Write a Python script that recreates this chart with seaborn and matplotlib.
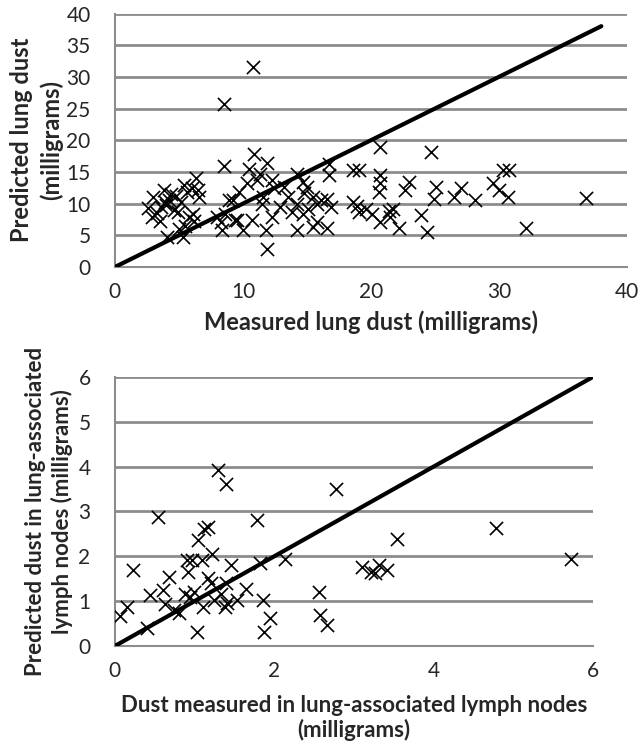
import numpy as np
import pandas as pd
import matplotlib
matplotlib.use('Agg')
import matplotlib.pyplot as plt
import seaborn as sns

# ─── DATA ─────────────────────────────────────────────────────────────────────
# top panel: measured vs predicted lung dust (mg)
lung_measured = [
    2.6, 2.9, 3.0, 3.3, 3.6, 3.8, 3.9, 4.2, 4.4, 4.6, 4.9, 4.1, 5.3, 5.0, 5.4,
    5.6, 5.8, 6.0, 6.1, 6.3, 6.5, 6.2, 5.2, 4.8, 3.5, 5.5, 4.0, 6.6,
    10.8, 8.5, 8.5, 10.9, 11.9, 10.5, 11.3, 11.1, 10.3, 9.7, 8.9, 11.6, 11.5,
    12.3, 12.4, 13.2, 13.5, 12.9, 12.3, 11.8, 11.9, 10.0, 9.5, 10.7, 8.6, 8.3,
    8.4, 8.0, 9.2, 9.4,
    14.2, 14.7, 15.0, 14.8, 15.5, 14.2, 13.8, 14.7, 15.1, 15.8, 16.1, 16.9,
    16.6, 14.2, 15.5, 15.8, 16.6, 16.7, 16.7,
    18.6, 19.1, 18.6, 18.9, 19.1, 19.6, 20.1, 20.7, 20.7, 20.7, 20.6, 20.7,
    21.4, 21.5, 21.7, 22.2, 22.7, 23.0, 23.9, 24.4, 24.7, 25.1, 24.9, 26.5,
    27.0, 28.1, 29.5, 30.0, 30.3, 30.8, 30.7, 32.1, 36.8,
]
lung_predicted = [
    9.3, 7.9, 11.0, 8.5, 9.5, 12.2, 10.2, 10.6, 11.5, 9.0, 8.7, 4.7, 4.7, 6.0, 13.0,
    11.8, 7.9, 12.5, 8.3, 14.1, 12.2, 7.2, 10.2, 11.2, 7.3, 6.5, 9.8, 11.0,
    31.6, 25.7, 15.9, 17.9, 16.4, 15.5, 14.7, 13.7, 13.2, 11.8, 10.5, 11.1, 10.0,
    13.7, 12.4, 12.6, 11.1, 9.5, 7.9, 5.8, 2.9, 5.8, 7.4, 7.4, 8.4, 7.1,
    5.8, 7.9, 10.6, 7.4,
    14.7, 13.4, 12.6, 11.6, 11.1, 10.0, 8.7, 8.4, 9.2, 10.0, 10.5, 9.5,
    10.8, 5.8, 6.3, 7.1, 6.1, 16.3, 14.5,
    15.3, 15.3, 10.3, 9.7, 8.7, 9.2, 8.4, 18.9, 14.5, 13.2, 11.8, 7.1,
    8.9, 7.9, 9.2, 6.1, 12.1, 13.4, 8.2, 5.5, 18.2, 12.6, 10.8, 11.1,
    12.4, 10.5, 13.2, 12.1, 15.3, 15.3, 11.1, 6.1, 10.9,
]
lung_line = [0, 38]

# bottom panel: lymph node dust (mg)
node_measured = [
    0.07, 0.15, 0.23, 0.40, 0.44, 0.54, 0.60, 0.63, 0.68, 0.74, 0.81, 0.88,
    0.90, 0.92, 0.97, 0.94, 0.99, 1.03, 1.04, 1.09, 1.10, 1.12, 1.17, 1.17,
    1.20, 1.22, 1.24, 1.30, 1.33, 1.40, 1.38, 1.41, 1.40, 1.46, 1.53, 1.64,
    1.78, 1.82, 1.86, 1.87, 1.95, 2.13, 2.56, 2.58, 2.66, 2.78, 3.10, 3.21,
    3.26, 3.31, 3.41, 3.54, 4.79, 5.73,
]
node_predicted = [
    0.67, 0.88, 1.69, 0.39, 1.14, 2.87, 1.25, 0.94, 1.54, 0.80, 0.74, 1.17,
    1.92, 1.66, 1.92, 1.10, 1.21, 0.32, 2.36, 1.92, 0.88, 2.61, 2.65, 1.51,
    1.40, 2.06, 1.02, 3.92, 1.17, 3.62, 0.88, 0.95, 1.40, 1.80, 1.02, 1.28,
    2.81, 1.84, 1.02, 0.32, 0.62, 1.93, 1.21, 0.69, 0.47, 3.49, 1.77, 1.66,
    1.62, 1.80, 1.69, 2.38, 2.64, 1.93,
]
node_line = [0, 6]

# ─── STYLE ────────────────────────────────────────────────────────────────────
sns.set_style('white')
plt.rcParams['font.family'] = ['Lato', 'DejaVu Sans']

grid_col = '#8c8c8c'


def style_axes(ax, xmax, xstep, ymax, ystep):
    ax.set_xlim(0, xmax)
    ax.set_ylim(0, ymax)
    ax.set_xticks(np.arange(0, xmax + 0.01, xstep))
    ax.set_yticks(np.arange(0, ymax + 0.01, ystep))
    ax.yaxis.grid(True, color=grid_col, lw=2)
    ax.xaxis.grid(False)
    for side in ['top', 'right']:
        ax.spines[side].set_visible(False)
    for side in ['left', 'bottom']:
        ax.spines[side].set_color(grid_col)
        ax.spines[side].set_linewidth(1.5)
    ax.tick_params(axis='y', labelsize=15, length=6.5, width=2,
                   color=grid_col, direction='out', pad=11)
    ax.tick_params(axis='x', labelsize=15, length=5, width=1.5,
                   color=grid_col, direction='out', pad=6)
    ax.set_axisbelow(True)


fig = plt.figure(figsize=(6.42, 7.5), dpi=100)

# ─── TOP PANEL ────────────────────────────────────────────────────────────────
ax1 = fig.add_axes([0.179, 0.644, 0.7975, 0.338])
sns.scatterplot(x=lung_measured, y=lung_predicted, marker='x', color='black',
                s=90, linewidth=1.2, ax=ax1, zorder=3)
sns.lineplot(x=lung_line, y=lung_line, color='black', lw=3, ax=ax1, zorder=4)
style_axes(ax1, 40, 10, 40, 5)
ax1.set_xlabel('Measured lung dust (milligrams)', fontsize=17,
               fontweight='bold', labelpad=6)
ax1.set_ylabel('Predicted lung dust\n(milligrams)', fontsize=17,
               fontweight='bold', labelpad=2, linespacing=1.35)

# ─── BOTTOM PANEL ─────────────────────────────────────────────────────────────
ax2 = fig.add_axes([0.179, 0.1387, 0.7445, 0.3587])
sns.scatterplot(x=node_measured, y=node_predicted, marker='x', color='black',
                s=90, linewidth=1.2, ax=ax2, zorder=3)
sns.lineplot(x=node_line, y=node_line, color='black', lw=3, ax=ax2, zorder=4)
style_axes(ax2, 6, 2, 6, 1)
ax2.set_xlabel('Dust measured in lung-associated lymph nodes\n(milligrams)',
               fontsize=16, fontweight='bold', labelpad=10, linespacing=1.15)
ax2.set_ylabel('Predicted dust in lung-associated\nlymph nodes (milligrams)',
               fontsize=16, fontweight='bold', labelpad=4, linespacing=1.25)

fig.savefig('out.png', dpi=100)
